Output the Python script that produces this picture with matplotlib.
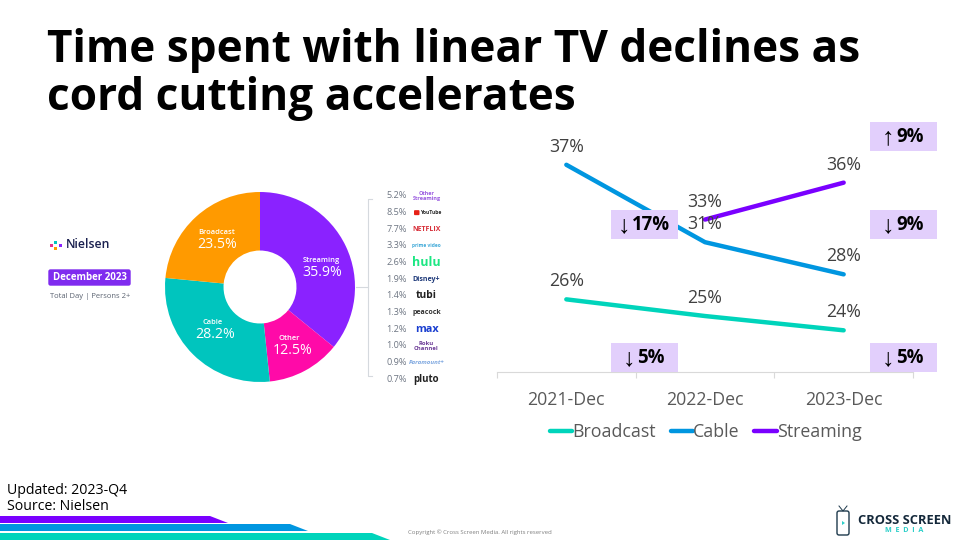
"""
Time spent with linear TV: Nielsen share donut plus the three year trend lines.
"""

import matplotlib
matplotlib.use("Agg")

import matplotlib.pyplot as plt
from matplotlib.patches import FancyBboxPatch, Polygon, Rectangle

W, H = 960, 540
FONT = "Open Sans"
SYMBOL_FONT = "Liberation Sans"

# ---------------------------------
# Data
# ---------------------------------
title_lines = "Time spent with linear TV declines as\ncord cutting accelerates"

pie_labels = ["Streaming", "Other", "Cable", "Broadcast"]
pie_values = [35.9, 12.5, 28.2, 23.5]
pie_colors = ["#8A22FF", "#FF0AA8", "#00C5BE", "#FF9A00"]

service_shares = ["5.2%", "8.5%", "7.7%", "3.3%", "2.6%", "1.9%",
                  "1.4%", "1.3%", "1.2%", "1.0%", "0.9%", "0.7%"]
service_names = ["Other\nStreaming", "YouTube", "NETFLIX", "prime video", "hulu", "Disney+",
                 "tubi", "peacock", "max", "Roku\nChannel", "Paramount+", "pluto"]
service_colors = ["#9A5BE0", "#2A2A2A", "#D8303A", "#3FA9D8", "#1CE783", "#1F3A7A",
                  "#222222", "#333333", "#1A3FD0", "#6C3C97", "#7FA8E0", "#222222"]
service_sizes = [4.0, 3.6, 5.0, 3.4, 9.0, 5.0, 7.4, 5.0, 7.8, 4.2, 4.4, 7.0]

years = ["2021-Dec", "2022-Dec", "2023-Dec"]
broadcast = [26.1, 24.7, 23.5]
cable = [37.4, 30.9, 28.2]
streaming = [None, 32.8, 35.9]
line_colors = {"Broadcast": "#00D4BB", "Cable": "#0096E0", "Streaming": "#7A00FF"}

# ---------------------------------
# Figure and pixel overlay
# ---------------------------------
fig = plt.figure(figsize=(W / 100, H / 100), dpi=100, facecolor="white")


def px_axes(x0, y0, x1, y1, **kwargs):
    """Axes placed by pixel box, y counted from the top of the picture."""
    return fig.add_axes([x0 / W, 1 - y1 / H, (x1 - x0) / W, (y1 - y0) / H], **kwargs)


# ---------------------------------
# Donut
# ---------------------------------
ax_pie = px_axes(165, 192, 355, 382)
ax_pie.pie(pie_values, colors=pie_colors, startangle=90, counterclock=False,
           radius=1, wedgeprops={"width": 0.616})
ax_pie.set_xlim(-1, 1)
ax_pie.set_ylim(-1, 1)

# ---------------------------------
# Trend lines
# ---------------------------------
ax = px_axes(497, 110, 913, 372)
ax.patch.set_alpha(0)
series = {"Broadcast": broadcast, "Cable": cable, "Streaming": streaming}
for name, values in series.items():
    xs = [i for i, v in enumerate(values) if v is not None]
    ys = [v for v in values if v is not None]
    ax.plot(xs, ys, color=line_colors[name], lw=3.2, solid_capstyle="round",
            solid_joinstyle="round", label=name)
    for x, y in zip(xs, ys):
        ax.annotate(f"{y:.0f}%", (x, y), xytext=(0, 18), textcoords="offset pixels",
                    ha="center", va="center", fontsize=12.8, family=FONT, color="#404040")

ax.set_xlim(-0.5, 2.5)
ax.set_ylim(20, 42)
ax.set_yticks([])
ax.set_xticks(range(len(years)), years, family=FONT, fontsize=12.8, color="#595959")
ax.set_xticks([-0.5, 0.5, 1.5, 2.5], minor=True)
ax.tick_params(axis="x", which="major", length=0, pad=14)
ax.tick_params(axis="x", which="minor", length=4.5, color="#D9D9D9", width=0.8)
for side in ["top", "left", "right"]:
    ax.spines[side].set_visible(False)
ax.spines["bottom"].set_color("#D9D9D9")
ax.legend(loc="center", bbox_to_anchor=(705.5 / W, 1 - 432 / H), bbox_transform=fig.transFigure,
          ncol=3, frameon=False, handlelength=1.25, handletextpad=0.0, columnspacing=0.85,
          prop={"family": FONT, "size": 12.8}, labelcolor="#595959")

# ---------------------------------
# Pixel overlay: text, boxes, decoration
# ---------------------------------
ov = px_axes(0, 0, W, H)
ov.set_xlim(0, W)
ov.set_ylim(H, 0)
ov.axis("off")
ov.patch.set_alpha(0)


def label(x, y, s, size, color="black", ha="left", weight="normal", **kwargs):
    ov.text(x, y, s, fontsize=size, color=color, ha=ha, va="center", weight=weight,
            family=kwargs.pop("family", FONT), **kwargs)


ov.text(47, 74.5, title_lines, fontsize=31.75, weight="bold", family=FONT, color="black",
        ha="left", va="center", linespacing=1.09)

# donut captions
pie_text_pos = {"Streaming": (321, 261, 322, 273), "Other": (289, 338, 293, 350),
                "Cable": (213, 323, 215, 334), "Broadcast": (217, 232, 217, 244)}
for name, value in zip(pie_labels, pie_values):
    nx, ny, vx, vy = pie_text_pos[name]
    label(nx, ny, name, 5.4, "white", ha="center", weight="semibold")
    label(vx, vy, f"{value}%", 10.2, "white", ha="center")

# Nielsen block
for x, y, c in [(51, 245, "#E8308A"), (55, 242, "#00C5BE"), (55, 248, "#FF9A00"), (60, 245, "#8A22FF")]:
    ov.add_patch(Rectangle((x - 1.5, y - 1.5), 3, 3, color=c, lw=0))
label(66, 245, "Nielsen", 8.8, "#1B2150", weight="semibold")
ov.add_patch(FancyBboxPatch((49, 270), 81, 15, boxstyle="round,pad=0,rounding_size=1.5",
                            fc="#7F2BEF", ec="#7F2BEF", lw=1))
label(90, 278, "December 2023", 7.0, "white", ha="center", weight="bold")
label(50, 297, "Total Day | Persons 2+", 5.5, "#5A6270")

# bracket joining the streaming slice to the service list
ov.plot([356, 368], [287, 287], color="#D5D9DE", lw=0.8)
ov.plot([372, 368, 368, 372], [199, 199, 376, 376], color="#D5D9DE", lw=0.8)

# service list
for i, (share, name, color, size) in enumerate(zip(service_shares, service_names, service_colors, service_sizes)):
    y = 196 + i * 16.65
    label(407, y, share, 6.6, "#6E7683", ha="right")
    style = "italic" if name == "Paramount+" else "normal"
    if name == "YouTube":
        ov.add_patch(FancyBboxPatch((414, y - 2.5), 5.5, 5, boxstyle="round,pad=0,rounding_size=1",
                                    fc="#E62117", ec="none"))
        label(420, y, name, size, color, weight="bold")
        continue
    label(426.5, y, name, size, color, ha="center", weight="bold", style=style,
          linespacing=0.9, multialignment="center")

# change badges
badges = [(870, 122, "↑", "9%"), (611, 210, "↓", "17%"), (870, 210, "↓", "9%"),
          (611, 343, "↓", "5%"), (870, 343, "↓", "5%")]
for x, y, arrow, text in badges:
    ov.add_patch(Rectangle((x, y), 67, 29, fc="#E2CFFC", ec="none"))
    arrow_dx = 13 if len(text) == 3 else 18
    label(x + arrow_dx, y + 15.5, arrow, 18, "black", ha="center", family=SYMBOL_FONT)
    label(x + 40, y + 15, text, 13.4, "black", ha="center", weight="bold")

# footer
label(7, 490, "Updated: 2023-Q4", 10.2)
label(7, 507, "Source: Nielsen", 10.2)
label(408, 532, "Copyright © Cross Screen Media. All rights reserved", 4.35, "#7F7F7F")

stripes = [(516, 523, 210, 228, "#7A00FF"), (524, 531, 290, 308, "#0096E0"), (533, 540, 372, 390, "#00D4BB")]
for top, bottom, x0, x1, color in stripes:
    ov.add_patch(Polygon([(0, top), (x0, top), (x1, bottom), (0, bottom)], closed=True, fc=color, ec="none"))

# Cross Screen logo
ov.add_patch(FancyBboxPatch((837, 511), 12, 24, boxstyle="round,pad=0,rounding_size=2",
                            fc="white", ec="#1E3A4C", lw=1))
ov.plot([839, 843, 847], [506, 511, 506], color="#1E3A4C", lw=0.7)
ov.add_patch(Polygon([(842, 521), (842, 525), (845, 523)], closed=True, fc="#2CCFC9", ec="none"))
label(904.5, 520, "CROSS SCREEN", 9.3, "#14283A", ha="center", weight="bold")
label(904.5, 530, "M  E  D  I  A", 5.2, "#2CCFC9", ha="center", weight="bold")

fig.savefig("out.png", dpi=100)
